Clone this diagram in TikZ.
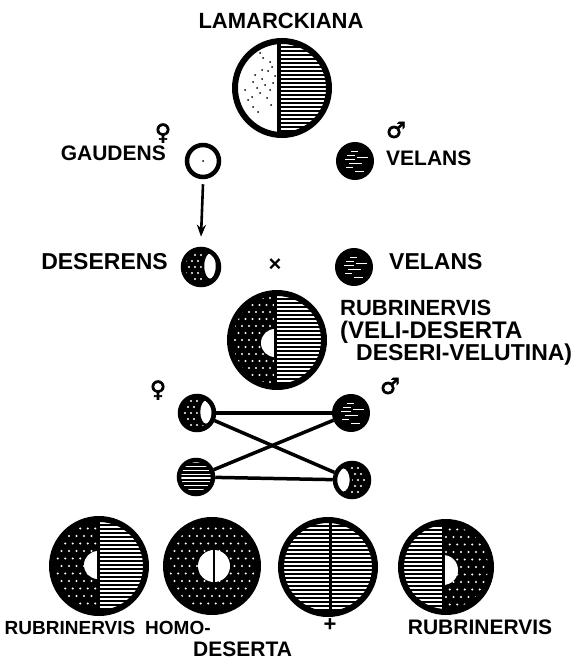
\documentclass[tikz,border=0pt]{standalone}
\usepackage{fontspec}
\setmainfont{Liberation Sans}
\newfontfamily\symfont{DejaVu Sans}[FakeBold=3]
\usetikzlibrary{arrows.meta}

% black field with white dots (staggered grid)
\newcommand{\dotfield}[5]{%
  \fill[black] ({#1-#3},{#2-#3}) rectangle ({#1+#3},{#2+#3});
  \pgfmathtruncatemacro{\nn}{ceil(#3/#4)+1}
  \foreach \i in {-\nn,...,\nn}{\foreach \j in {-\nn,...,\nn}{%
    \pgfmathsetmacro{\ox}{#1+\i*#4+mod(abs(\j),2)*#4/2}
    \pgfmathsetmacro{\oy}{#2+\j*#4}
    \fill[white] (\ox,\oy) circle[radius=#5pt];}}%
}
% black field with white horizontal lines
\newcommand{\linefield}[5]{%
  \fill[black] ({#1-#3},{#2-#3}) rectangle ({#1+#3},{#2+#3});
  \pgfmathtruncatemacro{\nn}{ceil(#3/#4)+1}
  \foreach \k in {-\nn,...,\nn}{\draw[white,line width=#5pt] ({#1-#3},{#2+\k*#4+1}) -- ({#1+#3},{#2+\k*#4+1});}%
}
% nearly black disc with a few faint white streaks (velans)
\newcommand{\velfield}[2]{%
  \fill[black] ({#1-18},{#2-18}) rectangle ({#1+18},{#2+18});
  \foreach \a/\b/\c in {-8/-6/4,-10/-2/6,-6/2/9,-9/6/3,-4/-10/3,0/10/5,2/-4/7}
    \draw[white,line width=0.5pt] ({#1+\a},{#2+\b}) -- ({#1+\a+\c+4},{#2+\b});%
}

\begin{document}
\begin{tikzpicture}[x=1pt,y=-1pt,
  lbl/.style={font=\bfseries\fontsize{21}{24}\selectfont, inner sep=0pt},
  sym/.style={font=\symfont\fontsize{22}{22}\selectfont, inner sep=0pt},
  rim/.style={circle, draw=black, inner sep=0pt},
  conn/.style={line width=3.5pt, black}]
\useasboundingbox (0,0) rectangle (588,661);
\fill[white] (0,0) rectangle (588,661);

% ---------- LAMARCKIANA ----------
\node[lbl, font=\bfseries\fontsize{22}{24}\selectfont] (tlam) at (281,21) {LAMARCKIANA};
\begin{scope}
  \clip (282,88) circle[radius=47pt];
  \fill[white] (230,36) rectangle (335,140);
  \begin{scope}
    \clip (279,36) rectangle (335,140);
    \linefield{282}{88}{48}{4}{1.7}
  \end{scope}
  \foreach \p in {(260,53),(263,58),(270,62),(272,67),(268,71),(255,75),(253,82),(262,79),(265,85),(257,88),(260,93),(252,97),(270,90),(273,83),(248,100),(267,98),(253,107),(275,76),(262,70),(245,90),(258,112),(271,105)}
    \fill[black] \p circle[radius=1pt];
  \draw[line width=3.5pt] (279,36) -- (279,140);
\end{scope}
\node[rim, line width=6pt, minimum size=94pt] (lam) at (282,88) {};

% ---------- GAUDENS / VELANS ----------
\node[lbl, anchor=east] (tgau) at (166,153) {GAUDENS};
\node[sym] (fem1) at (163,133) {♀};
\node[rim, line width=4.5pt, minimum size=32pt, fill=white] (gau) at (203,161) {};
\fill[black] (gau.center) circle[radius=1pt];

\begin{scope}
  \clip (355,161) circle[radius=17pt];
  \velfield{355}{161}
\end{scope}
\node[rim, line width=4pt, minimum size=34pt] (vel1) at (355,161) {};
\node[lbl, anchor=west] (tvel1) at (386,158) {VELANS};
\node[sym] (mal1) at (396,130) {♂};

% ---------- DESERENS x VELANS ----------
\begin{scope}
  \clip (201,267) circle[radius=18pt];
  \dotfield{201}{267}{19}{6}{1.1}
  \fill[white] (210,266) ellipse[x radius=7pt, y radius=14pt];
  \draw[line width=2.5pt] (210,266) ellipse[x radius=7pt, y radius=14pt];
\end{scope}
\node[rim, line width=4.5pt, minimum size=36pt] (des) at (201,267) {};
\node[lbl, anchor=east, font=\bfseries\fontsize{23}{24}\selectfont] (tdes) at (168,262) {DESERENS};
\draw[line width=2.6pt, -{Stealth[length=12pt,width=9pt]}] ([yshift=-5pt]gau.south) -- ([yshift=10pt]des.north);

\node[font=\bfseries\fontsize{22}{22}\selectfont, inner sep=0pt] (cross) at (275,265) {×};

\begin{scope}
  \clip (354,267) circle[radius=17pt];
  \velfield{354}{267}
\end{scope}
\node[rim, line width=4pt, minimum size=34pt] (vel2) at (354,267) {};
\node[lbl, anchor=west, font=\bfseries\fontsize{23}{24}\selectfont] (tvel2) at (389,262) {VELANS};

% ---------- RUBRINERVIS (big) ----------
\begin{scope}
  \clip (277,340) circle[radius=47pt];
  \begin{scope}
    \clip (225,285) rectangle (275,395);
    \dotfield{277}{340}{48}{7}{1.15}
  \end{scope}
  \begin{scope}
    \clip (275,285) rectangle (330,395);
    \linefield{277}{340}{48}{4}{1.2}
  \end{scope}
  \fill[white] (275,329) arc[start angle=90, end angle=270, radius=14pt] -- cycle;
  \draw[line width=3pt] (275,285) -- (275,395);
\end{scope}
\node[rim, line width=6pt, minimum size=94pt] (rub) at (277,340) {};
\node[lbl, anchor=west, font=\bfseries\fontsize{22}{24}\selectfont] (trub1) at (340,308) {RUBRINERVIS};
\node[lbl, anchor=west, font=\bfseries\fontsize{24}{24}\selectfont] (trub2) at (340,332) {(VELI-DESERTA};
\node[lbl, anchor=west, font=\bfseries\fontsize{23}{24}\selectfont] (trub3) at (356,355) {DESERI-VELUTINA)};

% ---------- gametes ----------
\node[sym] (fem2) at (158,390) {♀};
\node[sym] (mal2) at (390,386) {♂};

\begin{scope}
  \clip (197,413) circle[radius=17pt];
  \dotfield{197}{413}{18}{6}{1.1}
  \fill[white] (206,412) ellipse[x radius=7pt, y radius=13pt];
  \draw[line width=2.5pt] (206,412) ellipse[x radius=7pt, y radius=13pt];
\end{scope}
\node[rim, line width=4.5pt, minimum size=34pt] (g1) at (197,413) {};

\begin{scope}
  \clip (351,413) circle[radius=17pt];
  \velfield{351}{413}
\end{scope}
\node[rim, line width=4pt, minimum size=34pt] (g2) at (351,413) {};

\begin{scope}
  \clip (196,477) circle[radius=17pt];
  \linefield{196}{477}{18}{3.8}{1.3}
\end{scope}
\node[rim, line width=4.5pt, minimum size=34pt] (g3) at (196,477) {};

\begin{scope}
  \clip (352,480) circle[radius=17pt];
  \dotfield{352}{480}{18}{6}{1.1}
  \fill[white] (343,480) ellipse[x radius=8pt, y radius=13pt];
  \draw[line width=2.5pt] (343,480) ellipse[x radius=8pt, y radius=13pt];
\end{scope}
\node[rim, line width=4.5pt, minimum size=34pt] (g4) at (352,480) {};

\draw[conn] (g1) -- (g2);
\draw[conn] (g1) -- (g4);
\draw[conn] (g3) -- (g2);
\draw[conn] (g3) -- (g4);

% ---------- bottom row ----------
\begin{scope}
  \clip (99,566) circle[radius=47pt];
  \begin{scope}
    \clip (45,510) rectangle (98,620);
    \dotfield{99}{566}{48}{7.5}{1.2}
  \end{scope}
  \begin{scope}
    \clip (98,510) rectangle (150,620);
    \linefield{99}{566}{48}{4}{1.2}
  \end{scope}
  \fill[white] (98,551) arc[start angle=90, end angle=270, radius=14pt] -- cycle;
  \draw[line width=3pt] (98,510) -- (98,620);
\end{scope}
\node[rim, line width=6pt, minimum size=94pt] (b1) at (99,566) {};

\begin{scope}
  \clip (212,566) circle[radius=46pt];
  \dotfield{212}{566}{47}{7.5}{1.2}
  \fill[white] (214,566) circle[radius=16pt];
  \draw[line width=2.5pt] (214,550) -- (214,582);
\end{scope}
\node[rim, line width=6pt, minimum size=92pt] (b2) at (212,566) {};

\begin{scope}
  \clip (328,567) circle[radius=47pt];
  \linefield{328}{567}{48}{4}{1.2}
  \draw[line width=3pt] (330,515) -- (330,620);
\end{scope}
\node[rim, line width=6pt, minimum size=94pt] (b3) at (328,567) {};

\begin{scope}
  \clip (446,567) circle[radius=45pt];
  \begin{scope}
    \clip (395,515) rectangle (443,620);
    \linefield{446}{567}{46}{4}{1.2}
  \end{scope}
  \begin{scope}
    \clip (443,515) rectangle (495,620);
    \dotfield{446}{567}{46}{7.5}{1.2}
  \end{scope}
  \fill[white] (443,555) arc[start angle=90, end angle=-90, radius=15pt] -- cycle;
  \draw[line width=3pt] (443,515) -- (443,620);
\end{scope}
\node[rim, line width=6pt, minimum size=90pt] (b4) at (446,567) {};

\node[lbl, font=\bfseries\fontsize{19}{20}\selectfont] (l1) at (70,628) {RUBRINERVIS};
\node[lbl, font=\bfseries\fontsize{19}{20}\selectfont, anchor=west] (l2a) at (145,628) {HOMO-};
\node[lbl, anchor=west] (l2b) at (193,649) {DESERTA};
\node[lbl, font=\bfseries\fontsize{22}{22}\selectfont] (l3) at (330,625) {+};
\node[lbl] (l4) at (480,627) {RUBRINERVIS};
\end{tikzpicture}
\end{document}
